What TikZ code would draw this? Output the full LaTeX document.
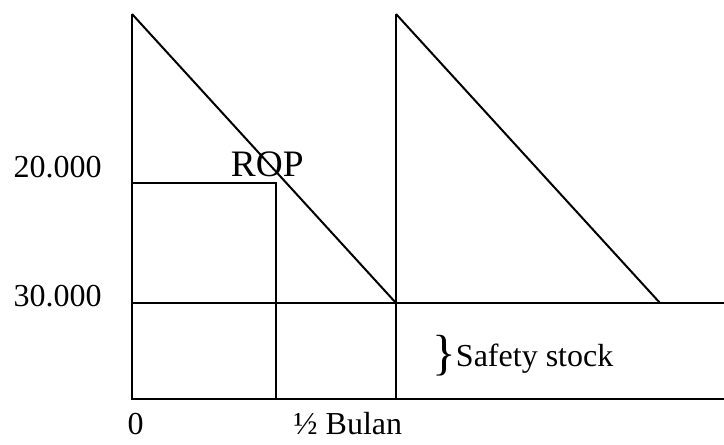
\documentclass[tikz,border=0pt]{standalone}
\usepackage{fontspec}
\setmainfont{Liberation Serif}
\begin{document}
\begin{tikzpicture}[x=0.375pt,y=-0.375pt,line width=0.75pt,
  lbl/.style={inner sep=0pt,anchor=base west,font=\fontsize{12}{14}\selectfont},
  biglbl/.style={inner sep=0pt,anchor=base west,font=\fontsize{14}{16}\selectfont},
  bracelbl/.style={inner sep=0pt,anchor=base west,font=\fontsize{18.5}{20}\selectfont}]
\useasboundingbox (0,0) rectangle (724,445);
\coordinate (top1) at (132,14);
\coordinate (origin) at (132,399);
\coordinate (rop) at (276,183);
\coordinate (ropy) at (132,183);
\coordinate (ropb) at (276,399);
\coordinate (mid) at (396,303);
\coordinate (top2) at (396,14);
\coordinate (midb) at (396,399);
\coordinate (ssl) at (132,303);
\coordinate (ssr) at (724,303);
\coordinate (end2) at (660,303);
\coordinate (br) at (724,399);
\draw (top1) -- (origin) -- (br);
\draw (top1) -- (mid);
\draw (top2) -- (midb);
\draw (top2) -- (end2);
\draw (ssl) -- (ssr);
\draw (ropy) -- (rop) -- (ropb);
\node[lbl] (l20) at (12.7,178) {20.000};
\node[lbl] (l30) at (12.7,307) {30.000};
\node[biglbl] (lrop) at (230,177) {ROP};
\node[lbl] (l0) at (126.7,435) {0};
\node[lbl] (lhalf) at (292.7,435) {½ Bulan};
\node[bracelbl] (brace) at (432,370) {\}};
\node[lbl] (lss) at (455,367) {Safety stock};
\end{tikzpicture}
\end{document}
